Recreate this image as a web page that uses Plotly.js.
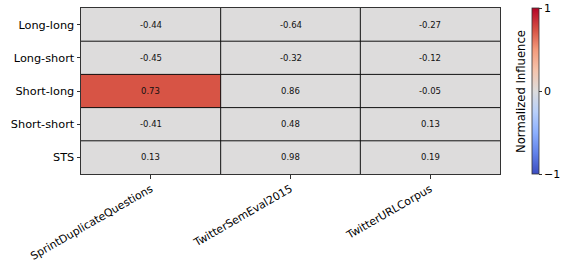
<!DOCTYPE html>
<html><head><meta charset="utf-8">
<script src="https://cdn.plot.ly/plotly-3.0.1.min.js"></script>
<style>html,body{margin:0;padding:0;background:#fff}#c{width:569px;height:270px}</style>
</head><body><div id="c"></div>
<script>
const datasets = ["SprintDuplicateQuestions", "TwitterSemEval2015", "TwitterURLCorpus"];
const groups = ["Long-long", "Long-short", "Short-long", "Short-short", "STS"];
const values = [
  [-0.44, -0.64, -0.27],
  [-0.45, -0.32, -0.12],
  [0.73, 0.86, -0.05],
  [-0.41, 0.48, 0.13],
  [0.13, 0.98, 0.19]
];
const highlighted = [
  [false, false, false],
  [false, false, false],
  [true, false, false],
  [false, false, false],
  [false, false, false]
];
const cbTicks = [-1, 0, 1];

const zShown = values.map((r, i) => r.map((v, j) => highlighted[i][j] ? v : null));
const coolwarm = [
  [0.0, '#3b4cc0'], [0.125, '#6282ea'], [0.25, '#8db0fe'], [0.375, '#b9d0f9'],
  [0.5, '#dddcdc'], [0.625, '#f5c4ac'], [0.75, '#f49a7b'], [0.865, '#d75445'], [1.0, '#b40426']
];
const trace = {
  type: 'heatmap', x: datasets, y: groups, z: zShown, zmin: -1, zmax: 1,
  colorscale: coolwarm, xgap: 0, ygap: 0, hoverongaps: false,
  colorbar: {
    x: 1.076, xanchor: 'left', xref: 'paper', y: 0.5, yanchor: 'middle', len: 1, lenmode: 'fraction',
    thickness: 7, thicknessmode: 'pixels', outlinewidth: 0.8, outlinecolor: '#333',
    tickvals: cbTicks, ticks: 'outside', ticklen: 3, tickcolor: '#333',
    tickfont: {family: 'DejaVu Sans', size: 11, color: '#000'}, xpad: 0, ypad: 0
  }
};
const annotations = [];
values.forEach((r, i) => r.forEach((v, j) => annotations.push({
  x: datasets[j], y: groups[i], xref: 'x', yref: 'y', text: v.toFixed(2), showarrow: false,
  font: {family: 'DejaVu Sans', size: 8.5, color: '#111'}
})));
annotations.push({
  xref: 'paper', yref: 'paper', x: 1.05, y: 0.5, text: 'Normalized Influence', textangle: -90,
  showarrow: false, xanchor: 'center', yanchor: 'middle',
  font: {family: 'DejaVu Sans', size: 11.6, color: '#000'}
});
const shapes = [];
for (let k = 0; k < datasets.length - 1; k++) shapes.push({type: 'line', xref: 'x', yref: 'paper', x0: k + 0.5, x1: k + 0.5, y0: 0, y1: 1, line: {color: '#111', width: 1}});
for (let k = 0; k < groups.length - 1; k++) shapes.push({type: 'line', xref: 'paper', yref: 'y', x0: 0, x1: 1, y0: k + 0.5, y1: k + 0.5, line: {color: '#111', width: 1}});
const layout = {
  width: 569, height: 270, margin: {l: 81, r: 66, t: 8, b: 96},
  paper_bgcolor: '#fff', plot_bgcolor: '#dddcdc',
  font: {family: 'DejaVu Sans', size: 11, color: '#000'},
  xaxis: {tickangle: -30, ticks: 'outside', ticklen: 3.5, tickcolor: '#333', showline: true, mirror: true,
    linecolor: '#333', linewidth: 1, showgrid: false, zeroline: false, tickfont: {size: 10.9}},
  yaxis: {autorange: 'reversed', ticks: 'outside', ticklen: 3.5, tickcolor: '#333', showline: true, mirror: true,
    linecolor: '#333', linewidth: 1, showgrid: false, zeroline: false, tickfont: {size: 11.3}},
  annotations, shapes, showlegend: false
};
Plotly.newPlot('c', [trace], layout, {displayModeBar: false, staticPlot: true});
</script></body></html>
